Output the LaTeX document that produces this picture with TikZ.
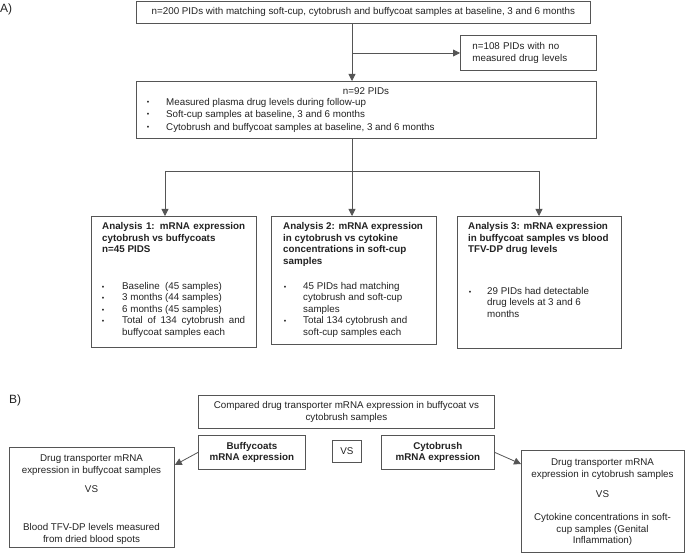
\documentclass[tikz,border=0pt]{standalone}
\usepackage{fontspec}
\setmainfont{Liberation Sans}
\usetikzlibrary{arrows.meta}
\definecolor{linec}{HTML}{555555}
\definecolor{txtc}{HTML}{222222}
\newcommand\fsz{\fontsize{9.8}{11.7}\selectfont}
\newcommand\mybul[3]{\node[bul] (#1) at (#2,#3) {•};}
\begin{document}
\begin{tikzpicture}[x=1pt,y=-1pt,
  box/.style={draw=linec, line width=0.8pt, inner sep=0pt, text=txtc, font=\fsz, align=center},
  txt/.style={inner sep=0pt, text=txtc, font=\fsz},
  ltxt/.style={txt, anchor=north west, align=left},
  ctxt/.style={txt, anchor=north, align=center},
  btxt/.style={ltxt, font=\fsz\bfseries},
  arr/.style={draw=linec, line width=0.8pt, -{Triangle[length=7pt,width=7pt]}},
  ln/.style={draw=linec, line width=0.8pt},
  bul/.style={inner sep=0pt, text=txtc, font=\fontsize{7}{8}\selectfont},
  lab/.style={inner sep=0pt, text=txtc, font=\fontsize{12}{14}\selectfont, anchor=west}
]
\useasboundingbox (0,0) rectangle (685,556);

% ---------- A ----------
\node[lab] (labA) at (0,9) {A)};

\node[box, anchor=north west, minimum width=454pt, minimum height=22pt] (top) at (136,1)
  {n=200 PIDs with matching soft-cup, cytobrush and buffycoat samples at baseline, 3 and 6 months};

\node[box, anchor=north west, minimum width=136pt, minimum height=35pt, text width=112pt, inner xsep=12pt, align=left] (n108) at (460,35)
  {n=108 PIDs with no\\measured drug levels};

\node[box, anchor=north west, minimum width=460pt, minimum height=57pt] (n92) at (136,81) {};
\node[ctxt] (n92t) at (366,87.5) {n=92 PIDs};
\mybul{n92b1}{148}{102.5}
\mybul{n92b2}{148}{115}
\mybul{n92b3}{148}{127.5}
\node[ltxt, font=\fontsize{9.8}{12.5}\selectfont] (n92l) at (166,98)
  {Measured plasma drug levels during follow-up\\Soft-cup samples at baseline, 3 and 6 months\\Cytobrush and buffycoat samples at baseline, 3 and 6 months};

\coordinate (j1) at (352,53);
\coordinate (j2) at (352,171);
\coordinate (d1) at (165,171);
\coordinate (d3) at (539,171);

\draw[arr] (top.south -| j1) -- (n92.north -| j1);
\draw[arr] (j1) -- (n108.west |- j1);
\draw[ln] (n92.south -| j2) -- (j2);
\draw[ln] (d1) -- (d3);

% analysis boxes
\node[box, anchor=north west, minimum width=165pt, minimum height=131pt] (an1) at (91,216) {};
\node[box, anchor=north west, minimum width=165pt, minimum height=128pt] (an2) at (271,216) {};
\node[box, anchor=north west, minimum width=164pt, minimum height=132pt] (an3) at (457,216) {};

\draw[arr] (d1) -- (an1.north -| d1);
\draw[arr] (j2) -- (an2.north -| j2);
\draw[arr] (d3) -- (an3.north -| d3);

% box 1
\node[btxt] (h1) at (102,222)
  {\makebox[143pt][s]{Analysis 1: mRNA expression}\\cytobrush vs buffycoats\\n=45 PIDS};
\mybul{b1a}{103}{287.5}
\mybul{b1b}{103}{299}
\mybul{b1c}{103}{310.5}
\mybul{b1d}{103}{322}
\node[ltxt, font=\fontsize{9.8}{11.5}\selectfont] (t1) at (122,282)
  {Baseline\ \ (45 samples)\\3 months (44 samples)\\6 months (45 samples)\\\makebox[123pt][s]{Total of 134 cytobrush and}\\buffycoat samples each};

% box 2
\node[btxt] (h2) at (283,222)
  {Analysis 2: mRNA expression\\in cytobrush vs cytokine\\concentrations in soft-cup\\samples};
\mybul{b2a}{285}{287.5}
\mybul{b2b}{285}{322}
\node[ltxt, font=\fontsize{9.8}{11.5}\selectfont] (t2) at (303,282)
  {45 PIDs had matching\\cytobrush and soft-cup\\samples\\Total 134 cytobrush and\\soft-cup samples each};

% box 3
\node[btxt] (h3) at (468,222)
  {Analysis 3: mRNA expression\\in buffycoat samples vs blood\\TFV-DP drug levels};
\mybul{b3a}{470}{292.5}
\node[ltxt, font=\fontsize{9.8}{11.5}\selectfont] (t3) at (487,287)
  {29 PIDs had detectable\\drug levels at 3 and 6\\months};

% ---------- B ----------
\node[lab] (labB) at (9,400) {B)};

\node[box, anchor=north west, minimum width=296pt, minimum height=33pt] (cmp) at (198,395)
  {Compared drug transporter mRNA expression in buffycoat vs\\cytobrush samples};
\node[box, anchor=north west, minimum width=107pt, minimum height=34pt, font=\fsz\bfseries] (buf) at (198,435)
  {Buffycoats\\mRNA expression};
\node[box, anchor=north west, minimum width=29pt, minimum height=22pt] (vs) at (332,440) {VS};
\node[box, anchor=north west, minimum width=113pt, minimum height=34pt, font=\fsz\bfseries] (cyt) at (381,435)
  {Cytobrush\\mRNA expression};

\node[box, anchor=north west, minimum width=165pt, minimum height=100pt] (lbox) at (9,447) {};
\node[ctxt] (lt1) at (91.5,455) {Drug transporter mRNA\\expression in buffycoat samples};
\node[txt] (lt2) at (91.5,489) {VS};
\node[ctxt] (lt3) at (91.5,523) {Blood TFV-DP levels measured\\from dried blood spots};

\node[box, anchor=north west, minimum width=163pt, minimum height=102pt] (rbox) at (521,450) {};
\node[ctxt] (rt1) at (602.5,459) {Drug transporter mRNA\\expression in cytobrush samples};
\node[txt] (rt2) at (602.5,494) {VS};
\node[ctxt] (rt3) at (602.5,513) {Cytokine concentrations in soft-\\cup samples (Genital\\Inflammation)};

\draw[arr] (buf.west) -- ([yshift=-18pt]lbox.north east);
\draw[arr] (cyt.east) -- ([yshift=-14pt]rbox.north west);
\end{tikzpicture}
\end{document}
